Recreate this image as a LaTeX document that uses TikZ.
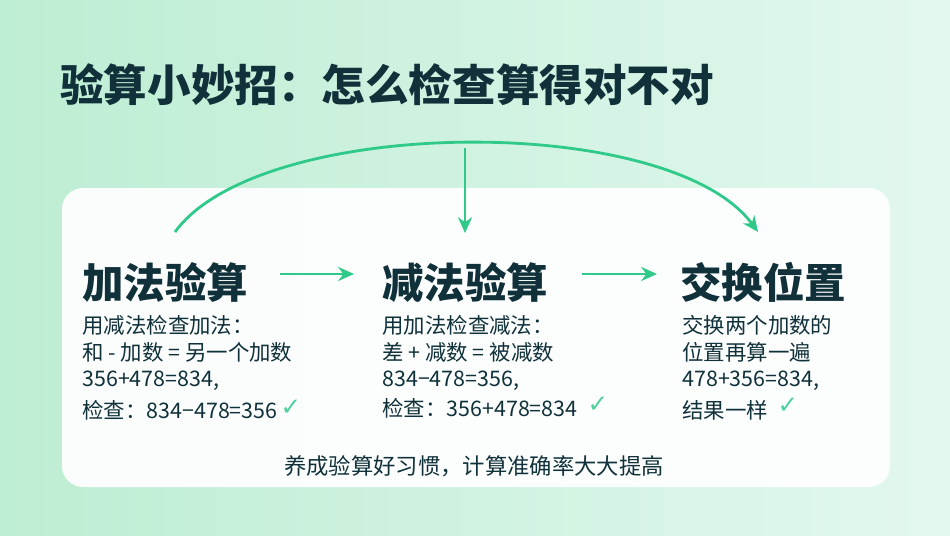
\documentclass[tikz,border=0pt]{standalone}
\usepackage{fontspec}
\setmainfont{Noto Sans CJK SC}
\newfontfamily\symfont{DejaVu Sans}
\usetikzlibrary{arrows.meta}
\definecolor{inkdark}{HTML}{10303A}
\definecolor{linegreen}{HTML}{2FC98A}
\definecolor{bgleft}{HTML}{BDEDD3}
\definecolor{bgright}{HTML}{E3F8EF}
\tikzset{
  heading/.style={anchor=west, font=\fontsize{23.6}{27}\selectfont\bfseries, text=inkdark, inner sep=0pt},
  subline/.style={anchor=west, font=\fontsize{12.2}{14}\selectfont, text=inkdark, inner sep=0pt},
  tick/.style={font=\symfont\fontsize{14}{15}\selectfont\bfseries, text=linegreen!85, inner sep=0pt},
  flow/.style={linegreen, line width=1.6pt, -{Stealth[length=9pt,width=8pt]}}
}
\begin{document}
\begin{tikzpicture}[x=0.02cm, y=-0.02cm]
\useasboundingbox (0,0) rectangle (950,535);
\shade[left color=bgleft, right color=bgright] (0,0) rectangle (950,535);
\fill[white, opacity=0.93, rounded corners=12pt] (62,188) rectangle (890,487);

% title
\node[anchor=west, font=\fontsize{24.8}{28}\selectfont\bfseries, text=inkdark, inner sep=0pt] (title) at (60,85) {验算小妙招：怎么检查算得对不对};

% three columns
\node[heading] (addcheck) at (82,282) {加法验算};
\node[heading] (subcheck) at (382,282) {减法验算};
\node[heading] (swapcheck) at (680,282) {交换位置};

\node[subline] (a1) at (82,325) {用减法检查加法：};
\node[subline] (a2) at (82,352) {和 - 加数 = 另一个加数};
\node[subline] (a3) at (82,381) {356+478=834,};
\node[subline] (a4) at (82,410) {检查：834−478=356};

\node[subline] (b1) at (382,325) {用加法检查减法：};
\node[subline] (b2) at (382,352) {差 + 减数 = 被减数};
\node[subline] (b3) at (382,381) {834−478=356,};
\node[subline] (b4) at (382,408) {检查：356+478=834};

\node[subline] (c1) at (682,325) {交换两个加数的};
\node[subline] (c2) at (682,352) {位置再算一遍};
\node[subline] (c3) at (682,381) {478+356=834,};
\node[subline] (c4) at (682,410) {结果一样};

\node[tick] (ta) at (291,408) {✓};
\node[tick] (tb) at (598,405) {✓};
\node[tick] (tc) at (788,406) {✓};

\node[font=\fontsize{12.7}{14}\selectfont, text=inkdark, inner sep=0pt] (motto) at (474,466) {养成验算好习惯，计算准确率大大提高};

% connectors
\coordinate (top) at (465,148);
\coordinate (arcstart) at (175,232);
\coordinate (arcend) at (758,232);
\coordinate (midend) at (465,233);
\coordinate (a) at (280,274);
\coordinate (b) at (354,274);
\coordinate (c) at (582,274);
\coordinate (d) at (657,274);
\draw[flow] (a) -- (b);
\draw[flow] (c) -- (d);
\draw[flow] (arcstart) .. controls (260,115) and (670,112) .. (arcend);
\draw[flow] (top) -- (midend);
\end{tikzpicture}
\end{document}
